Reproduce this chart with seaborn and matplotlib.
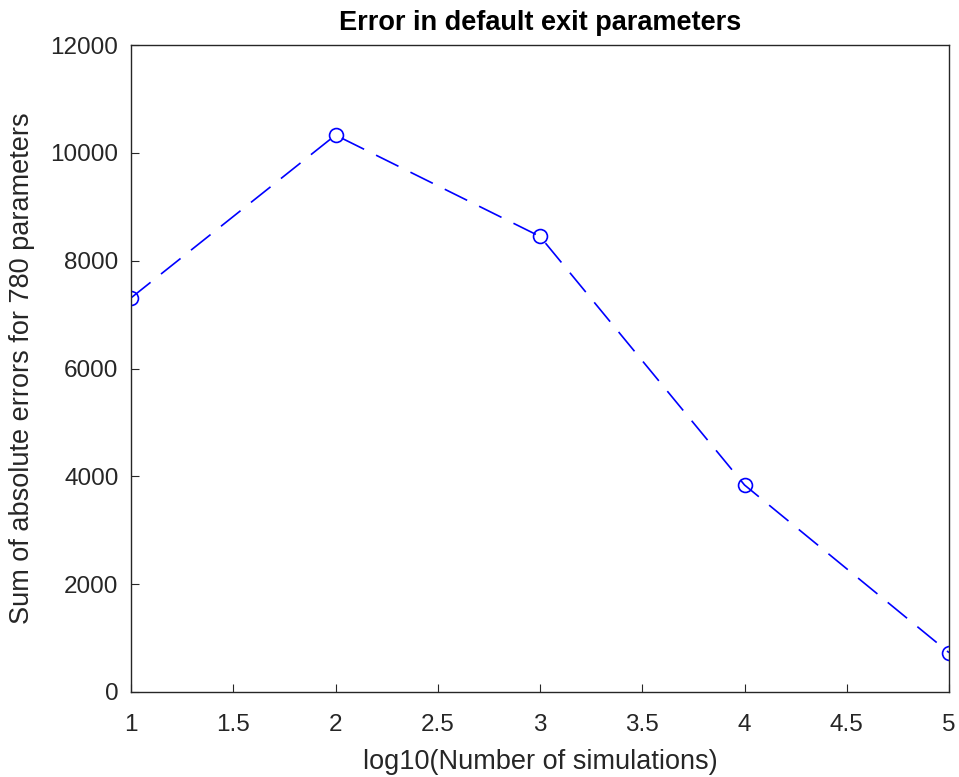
import numpy as np
import pandas as pd
import matplotlib
matplotlib.use("Agg")
import matplotlib.pyplot as plt
import seaborn as sns

# values
log_sims = [1, 2, 3, 4, 5]
abs_errors = [7310, 10330, 8450, 3840, 730]

x_ticks = [1, 1.5, 2, 2.5, 3, 3.5, 4, 4.5, 5]
y_ticks = [0, 2000, 4000, 6000, 8000, 10000, 12000]

sns.set_theme(style="white")
plt.rcParams['font.family'] = ['Liberation Sans', 'DejaVu Sans']

df = pd.DataFrame({"log_sims": log_sims, "abs_errors": abs_errors})

fig = plt.figure(figsize=(9.59, 7.77), dpi=100)
ax = fig.add_axes([0.1366, 0.1094, 0.8530, 0.8326])

sns.lineplot(data=df, x="log_sims", y="abs_errors", ax=ax, color="#0000ff",
             linewidth=1.2, marker="o", markersize=10, markerfacecolor="none",
             markeredgecolor="#0000ff", markeredgewidth=1.2)
ax.lines[0].set_dashes([15, 8])

ax.set_xlim(1, 5)
ax.set_ylim(0, 12000)
ax.set_xticks(x_ticks)
ax.set_xticklabels([f"{t:g}" for t in x_ticks])
ax.set_yticks(y_ticks)
ax.set_yticklabels([str(t) for t in y_ticks])

for s in ax.spines.values():
    s.set_visible(True)
    s.set_color("#262626")
    s.set_linewidth(1.0)

ax.tick_params(direction="in", length=6, width=0.8, color="#262626",
               labelsize=17.5, labelcolor="#262626", top=False, right=False,
               bottom=True, left=True)
ax.tick_params(axis="x", pad=16)
ax.tick_params(axis="y", pad=9)
ax.set_xlabel("log10(Number of simulations)", fontsize=19.5, color="#262626", labelpad=9)
ax.set_ylabel("Sum of absolute errors for 780 parameters", fontsize=19.5, color="#262626", labelpad=11)
ax.set_title("Error in default exit parameters", fontsize=19.5, fontweight="bold", color="black", pad=11)

fig.savefig("out.png", dpi=100)
